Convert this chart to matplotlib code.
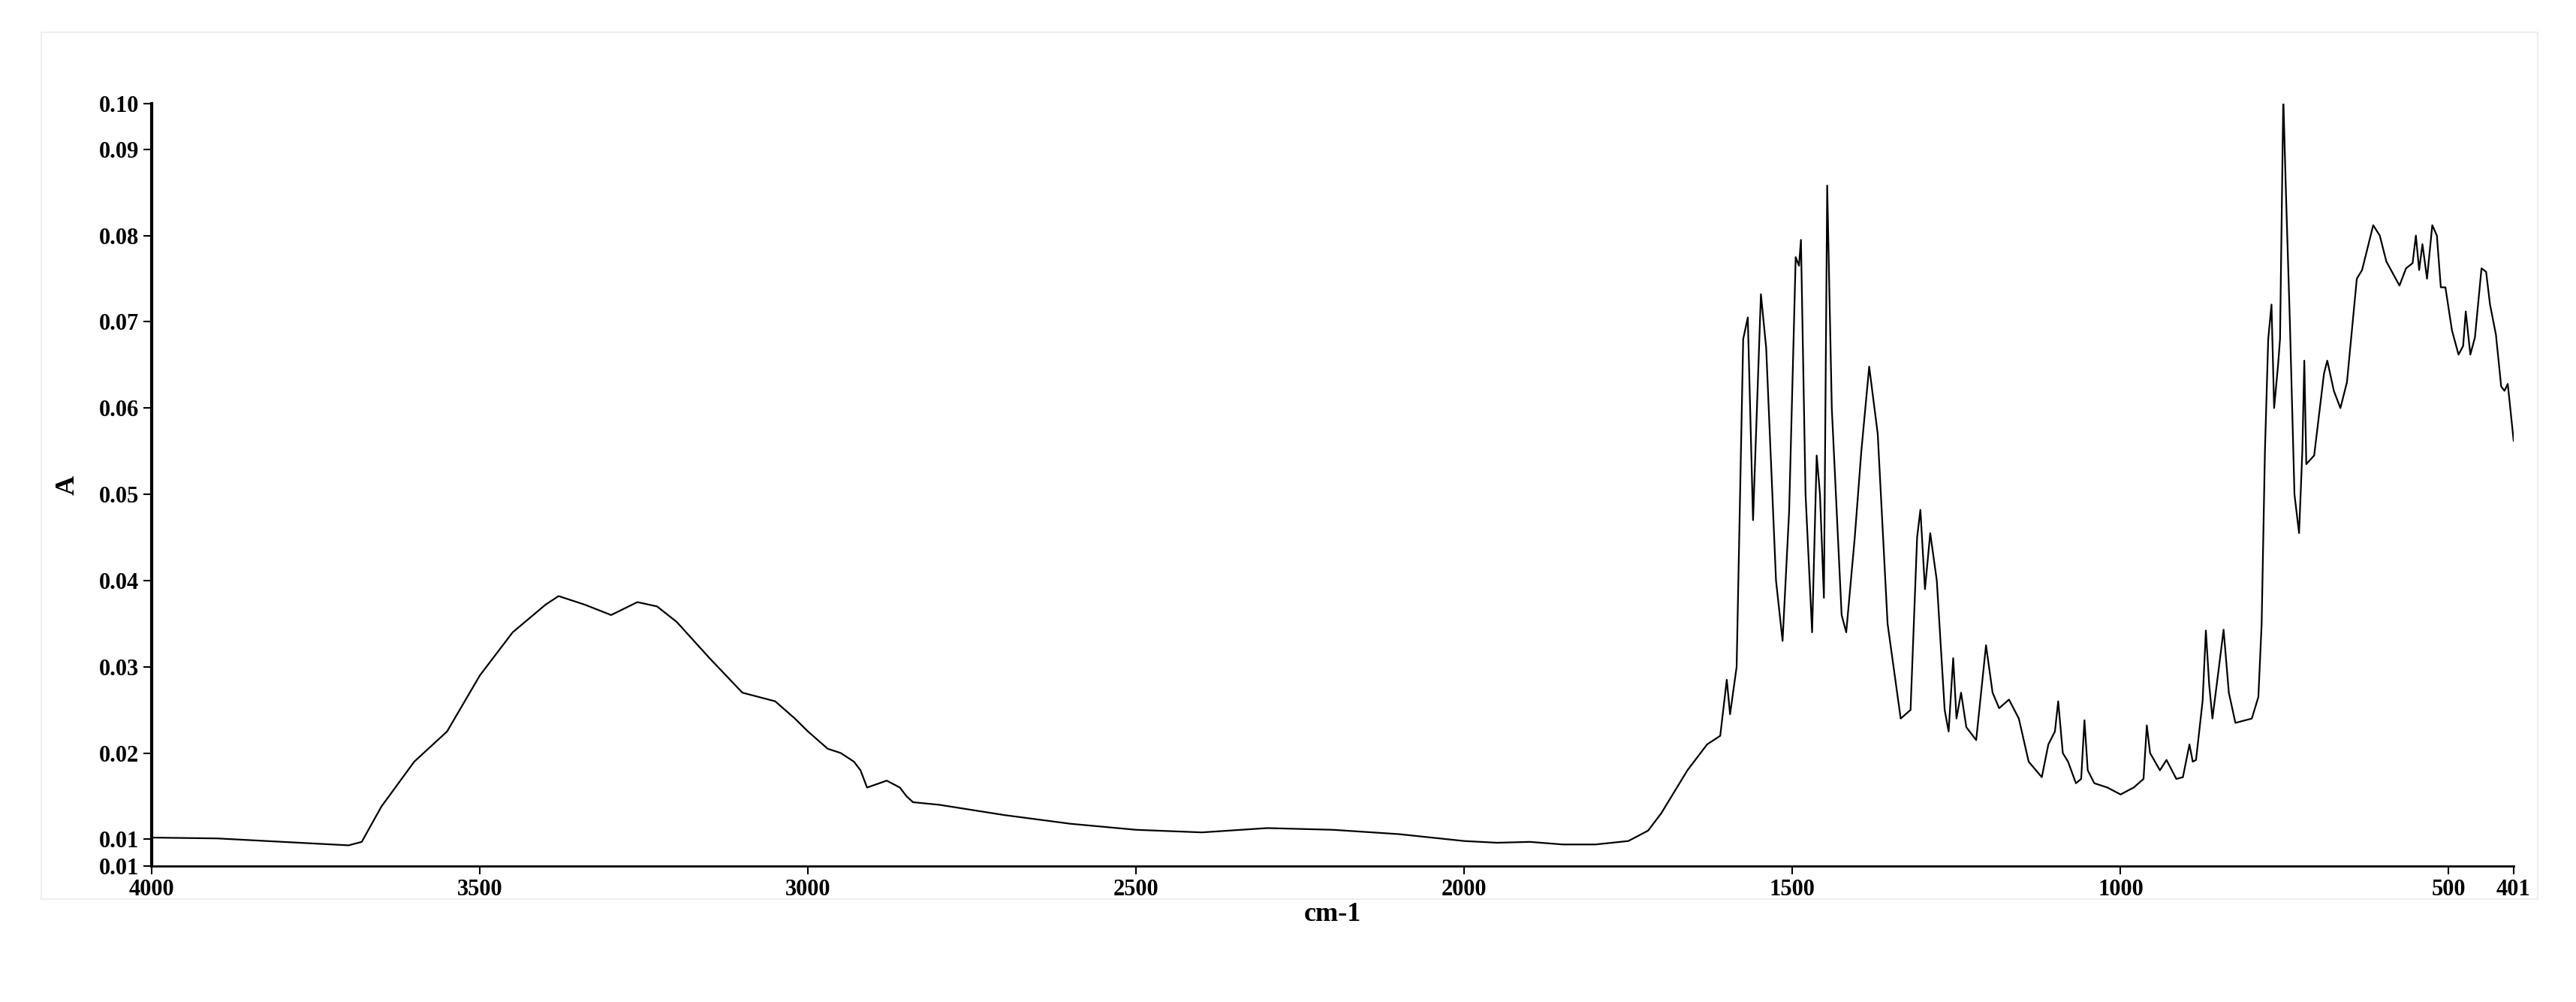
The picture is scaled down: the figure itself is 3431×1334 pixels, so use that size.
import matplotlib
matplotlib.use("Agg")
import matplotlib.pyplot as plt
from matplotlib.patches import Rectangle
import numpy as np

# spectrum: wavenumber (cm-1) and absorbance
wavenumber = [4000, 3900, 3800, 3750, 3700, 3680, 3650, 3600, 3550, 3500, 3450, 3400, 3380,
              3340, 3300, 3260, 3230, 3200, 3150, 3100, 3050, 3020, 3000, 2970, 2950, 2930,
              2920, 2910, 2880, 2860, 2850, 2840, 2800, 2700, 2600, 2500, 2400, 2300, 2200,
              2100, 2000, 1950, 1900, 1850, 1800, 1750, 1720, 1700, 1680, 1660, 1630, 1610,
              1600, 1595, 1585, 1575, 1568, 1560, 1548, 1540, 1525, 1515, 1505, 1495, 1490,
              1487, 1480, 1470, 1463, 1458, 1452, 1447, 1440, 1425, 1418, 1405, 1395, 1383,
              1370, 1355, 1335, 1320, 1310, 1305, 1298, 1290, 1280, 1268, 1262, 1255, 1250,
              1243, 1235, 1220, 1205, 1195, 1185, 1170, 1155, 1140, 1120, 1110, 1100, 1095,
              1088, 1080, 1068, 1060, 1055, 1050, 1040, 1020, 1000, 980, 965, 960, 955, 940,
              930, 915, 905, 895, 890, 885, 875, 870, 865, 860, 850, 843, 835, 825, 800, 790,
              785, 780, 775, 770, 766, 760, 757, 752, 748, 742, 735, 728, 723, 720, 717, 705,
              690, 685, 675, 665, 655, 640, 632, 615, 605, 595, 575, 565, 555, 550, 545, 540,
              533, 525, 518, 512, 505, 495, 485, 478, 474, 467, 460, 450, 443, 437, 428, 420,
              415, 410, 401]
absorbance = [0.0102, 0.0101, 0.0097, 0.0095, 0.0093, 0.0097, 0.0138, 0.0190, 0.0225, 0.0290,
              0.0340, 0.0372, 0.0382, 0.0372, 0.0360, 0.0375, 0.0370, 0.0352, 0.0310, 0.0270,
              0.0260, 0.0240, 0.0225, 0.0205, 0.0200, 0.0190, 0.0180, 0.0160, 0.0168, 0.0160,
              0.0150, 0.0143, 0.0140, 0.0128, 0.0118, 0.0111, 0.0108, 0.0113, 0.0111, 0.0106,
              0.0098, 0.0096, 0.0097, 0.0094, 0.0094, 0.0098, 0.0110, 0.0130, 0.0155, 0.0180,
              0.0210, 0.0220, 0.0285, 0.0245, 0.0300, 0.0680, 0.0705, 0.0470, 0.0732, 0.0670,
              0.0400, 0.0330, 0.0480, 0.0775, 0.0765, 0.0795, 0.0500, 0.0340, 0.0545, 0.0500,
              0.0380, 0.0858, 0.0600, 0.0360, 0.0340, 0.0450, 0.0550, 0.0648, 0.0570, 0.0350,
              0.0240, 0.0250, 0.0450, 0.0482, 0.0390, 0.0455, 0.0400, 0.0250, 0.0225, 0.0310,
              0.0240, 0.0270, 0.0230, 0.0215, 0.0325, 0.0270, 0.0252, 0.0262, 0.0240, 0.0190,
              0.0172, 0.0210, 0.0225, 0.0260, 0.0200, 0.0190, 0.0165, 0.0170, 0.0238, 0.0180,
              0.0165, 0.0160, 0.0152, 0.0160, 0.0170, 0.0232, 0.0200, 0.0180, 0.0192, 0.0170,
              0.0172, 0.0210, 0.0190, 0.0192, 0.0260, 0.0342, 0.0280, 0.0240, 0.0300, 0.0343,
              0.0270, 0.0235, 0.0240, 0.0265, 0.0350, 0.0550, 0.0680, 0.0720, 0.0600, 0.0650,
              0.0680, 0.0960, 0.0850, 0.0700, 0.0500, 0.0455, 0.0550, 0.0655, 0.0535, 0.0545,
              0.0640, 0.0655, 0.0620, 0.0600, 0.0630, 0.0750, 0.0760, 0.0812, 0.0800, 0.0770,
              0.0742, 0.0762, 0.0768, 0.0800, 0.0760, 0.0790, 0.0750, 0.0812, 0.0800, 0.0740,
              0.0740, 0.0690, 0.0662, 0.0672, 0.0712, 0.0662, 0.0682, 0.0762, 0.0758, 0.0720,
              0.0685, 0.0625, 0.0620, 0.0628, 0.0562]

y_ticks = [0.0069, 0.01, 0.02, 0.03, 0.04, 0.05, 0.06, 0.07, 0.08, 0.09, 0.0953]
y_labels = ["0.01", "0.01", "0.02", "0.03", "0.04", "0.05", "0.06", "0.07", "0.08", "0.09", "0.10"]
x_ticks = [4000, 3500, 3000, 2500, 2000, 1500, 1000, 500, 401]
x_labels = ["4000", "3500", "3000", "2500", "2000", "1500", "1000", "500", "401"]

plt.rcParams['font.family'] = ['Liberation Serif', 'DejaVu Serif']
plt.rcParams['font.weight'] = 'bold'

fig = plt.figure(figsize=(34.31, 13.34), dpi=100)
# faint frame around the whole chart
fig.patches.append(Rectangle((0.016, 0.103), 0.969, 0.865, transform=fig.transFigure,
                             fill=False, edgecolor='#eeeeee', linewidth=1.5))
ax = fig.add_axes([0.0589, 0.1357, 0.9169, 0.7609])

ax.plot(wavenumber, absorbance, color='black', linewidth=1.6)
ax.set_xlim(4000, 401)
ax.set_ylim(0.0069, 0.0953)

ax.set_xticks(x_ticks)
ax.set_xticklabels(x_labels)
ax.set_yticks(y_ticks)
ax.set_yticklabels(y_labels)
ax.tick_params(direction='out', length=8, width=1.5, labelsize=22, pad=4)

for s in ['top', 'right']:
    ax.spines[s].set_visible(False)
ax.spines['left'].set_linewidth(3)
ax.spines['bottom'].set_linewidth(2)

ax.set_xlabel("cm-1", fontsize=26, fontweight='bold', labelpad=2)
ax.set_ylabel("A", fontsize=26, fontweight='bold', labelpad=18)

fig.savefig("out.png", dpi=100)
